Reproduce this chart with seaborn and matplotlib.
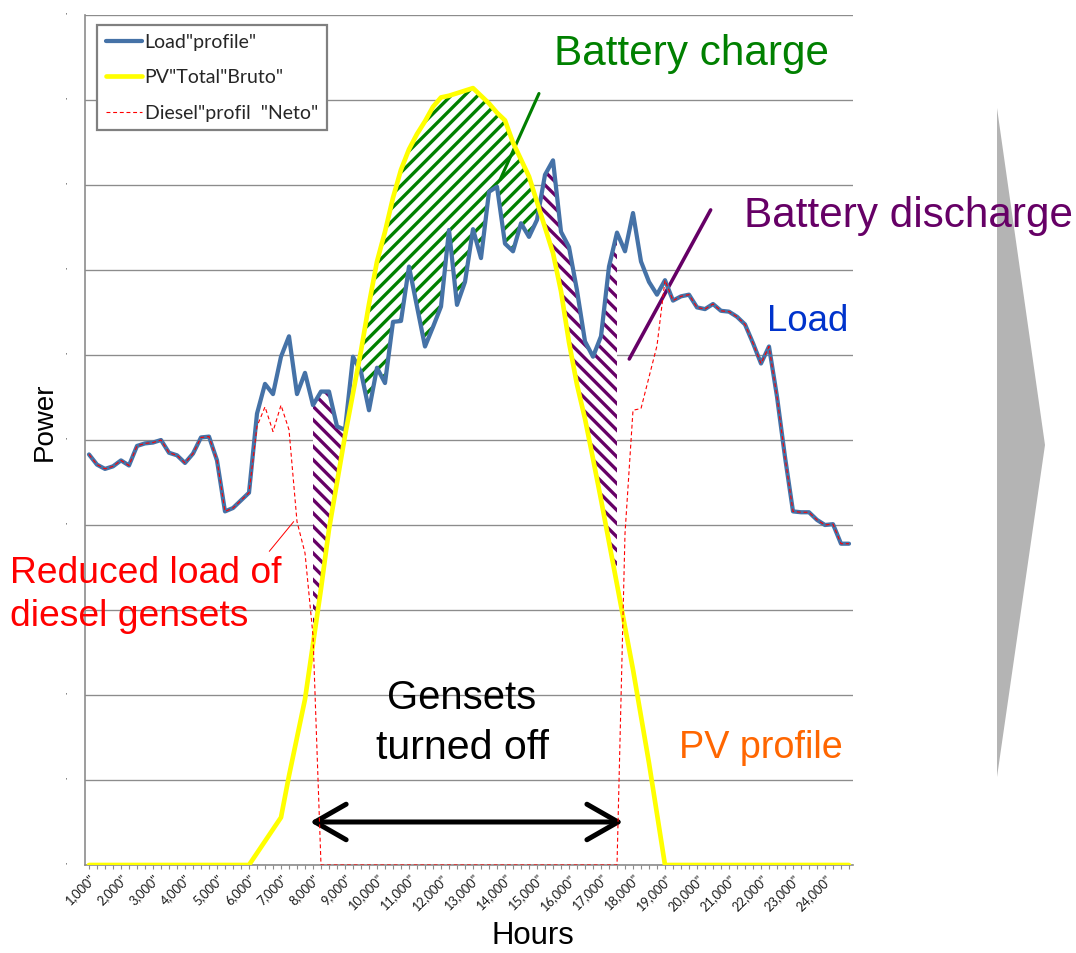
import numpy as np
import pandas as pd
import matplotlib
matplotlib.use("Agg")
import matplotlib.pyplot as plt
import seaborn as sns
from matplotlib.patches import Polygon
from matplotlib.lines import Line2D

W, H, DPI = 1076, 953, 80

# 15-minute categories, 1:00 ... 24:45
hours = np.arange(1, 24.76, 0.25)

load = [4.83, 4.71, 4.66, 4.69, 4.76, 4.70, 4.93, 4.96, 4.97, 5.00,
        4.85, 4.82, 4.73, 4.84, 5.03, 5.04, 4.76, 4.16, 4.20, 4.29,
        4.38, 5.31, 5.66, 5.54, 5.98, 6.22, 5.54, 5.79, 5.41, 5.57,
        5.57, 5.16, 5.12, 5.98, 5.80, 5.35, 5.85, 5.67, 6.39, 6.40,
        7.04, 6.57, 6.10, 6.33, 6.57, 7.47, 6.59, 6.86, 7.48, 7.14,
        7.92, 7.98, 7.31, 7.22, 7.55, 7.39, 7.59, 8.12, 8.29, 7.45,
        7.27, 6.76, 6.16, 5.98, 6.22, 7.04, 7.44, 7.22, 7.67, 7.10,
        6.86, 6.71, 6.88, 6.64, 6.69, 6.71, 6.56, 6.54, 6.60, 6.52,
        6.51, 6.45, 6.36, 6.14, 5.90, 6.10, 5.51, 4.80, 4.16, 4.15,
        4.15, 4.06, 4.00, 4.01, 3.78, 3.78]

pv = [0.0] * 20 + [
    0.00, 0.14, 0.28, 0.42, 0.56, 1.05, 1.50, 1.95, 2.60, 3.25,
    3.95, 4.50, 5.05, 5.55, 6.05, 6.60, 7.10, 7.45, 7.85, 8.18,
    8.42, 8.60, 8.75, 8.92, 9.03, 9.05, 9.08, 9.11, 9.14, 9.05,
    8.96, 8.85, 8.76, 8.50, 8.30, 8.10, 7.80, 7.50, 7.20, 6.75,
    6.15, 5.65, 5.25, 4.78, 4.30, 3.80, 3.30, 2.80, 2.30, 1.75,
    1.20, 0.60, 0.00] + [0.0] * 23

diesel = (load[:21]
          + [5.16, 5.39, 5.10, 5.41, 5.12, 4.04, 3.67, 2.70]
          + [0.0] * 38
          + [3.90, 5.35, 5.37, 5.74, 6.11]
          + load[72:])

legend_labels = ['Load"profile"', 'PV"Total"Bruto"', 'Diesel"profil  "Neto"']
hour_labels = [f'{h},000"' for h in range(1, 25)]

df = pd.DataFrame({"hour": hours, "Load": load, "PV": pv, "Diesel": diesel})

sns.set_theme(style="white")
plt.rcParams["font.family"] = ["Liberation Sans", "DejaVu Sans"]
plt.rcParams["hatch.linewidth"] = 3.0

fig = plt.figure(figsize=(W / DPI, H / DPI), dpi=DPI)
ax = fig.add_axes([85 / W, 1 - 865 / H, 768 / W, 850 / H])


def ftext(x, y, s, **kw):
    # position given in figure pixels from the top-left corner
    fig.text(x / W, 1 - y / H, s, **kw)


# hatched battery areas
idx = np.arange(len(df))
l = df["Load"].values
p = df["PV"].values
ax.fill_between(df["hour"], l, p, where=(p > l) & (idx >= 32) & (idx <= 59),
                interpolate=True, facecolor="white", edgecolor="#008000",
                hatch="//", linewidth=0, zorder=2)
discharge = (l > p) & (((idx >= 28) & (idx <= 32)) | ((idx >= 57) & (idx <= 66)))
ax.fill_between(df["hour"], l, p, where=discharge, interpolate=True,
                facecolor="white", edgecolor="#660066", hatch="\\\\",
                linewidth=0, zorder=2)

sns.lineplot(data=df, x="hour", y="Load", ax=ax, color="#4572A7", lw=3.8,
             zorder=4, legend=False)
sns.lineplot(data=df, x="hour", y="PV", ax=ax, color="#FFFF00", lw=4.2,
             zorder=5, legend=False)
sns.lineplot(data=df, x="hour", y="Diesel", ax=ax, color="#FF0000", lw=1.0,
             zorder=6, legend=False)
ax.lines[-1].set_dashes((3.5, 2.5))

# axes styling
ax.set_xlim(0.875, 24.875)
ax.set_ylim(0, 10)
ax.set_xticks(np.arange(1, 25))
ax.set_xticks(df["hour"], minor=True)
ax.set_xticklabels(hour_labels, rotation=45, ha="right", va="top",
                   rotation_mode="anchor", fontsize=11.5, family="Lato",
                   color="#1a1a1a")
ax.tick_params(axis="x", which="both", bottom=True, direction="out",
               length=4, width=1, color="#8c8c8c", pad=3)
ax.set_yticks(np.arange(0, 11))
ax.set_yticklabels(["'"] * 11, fontsize=7, color="#404040")
ax.tick_params(axis="y", length=0, pad=16)
ax.grid(axis="y", color="#8c8c8c", lw=1.2)
ax.grid(axis="x", visible=False)
for side in ("top", "right"):
    ax.spines[side].set_visible(False)
for side in ("left", "bottom"):
    ax.spines[side].set_color("#8c8c8c")
    ax.spines[side].set_linewidth(1.5)
ax.set_xlabel("")
ax.set_ylabel("")

handles = [Line2D([], [], color="#4572A7", lw=3.8),
           Line2D([], [], color="#FFFF00", lw=4.2),
           Line2D([], [], color="#FF0000", lw=1.0, dashes=(3.5, 2.5))]
leg = ax.legend(handles, legend_labels, loc="upper left",
                bbox_to_anchor=(12 / 768, 1 - 10 / 850), frameon=True,
                fancybox=False, edgecolor="#808080", framealpha=1,
                prop={"family": "Lato", "size": 17.5}, handlelength=1.85,
                handletextpad=0.15, labelspacing=0.95, borderpad=0.45,
                borderaxespad=0)
leg.get_frame().set_linewidth(2)
leg.set_zorder(10)

# pointer lines and arrow
ax.annotate("", xy=(13.82, 8.04), xytext=(15.09, 9.10),
            arrowprops=dict(arrowstyle="-", color="#007F00", lw=2.8))
ax.annotate("", xy=(17.85, 5.93), xytext=(20.46, 7.73),
            arrowprops=dict(arrowstyle="-", color="#660066", lw=3.2))
ax.annotate("", xy=(6.59, 3.67), xytext=(7.44, 4.06),
            arrowprops=dict(arrowstyle="-", color="#FF0000", lw=0.9))
ax.annotate("", xy=(17.69, 0.506), xytext=(7.906, 0.506),
            arrowprops=dict(arrowstyle="<->,head_length=1.4,head_width=0.8",
                            color="black", lw=4.5, mutation_scale=20,
                            shrinkA=0, shrinkB=0))

# texts
ftext(692, 65, "Battery charge", color="#008000", fontsize=38,
      ha="center", va="baseline")
ftext(909, 227, "Battery discharge", color="#660066", fontsize=38,
      ha="center", va="baseline")
ftext(808, 331, "Load", color="#0033CC", fontsize=33, ha="center",
      va="baseline")
ftext(761, 758, "PV profile", color="#FF6600", fontsize=34, ha="center",
      va="baseline")
ftext(10, 583, "Reduced load of", color="#FF0000", fontsize=33.5,
      ha="left", va="baseline")
ftext(10, 626, "diesel gensets", color="#FF0000", fontsize=33.5,
      ha="left", va="baseline")
ftext(462, 709, "Gensets", color="black", fontsize=36, ha="center",
      va="baseline")
ftext(462, 759, "turned off", color="black", fontsize=37, ha="center",
      va="baseline")
ftext(533, 944, "Hours", color="black", fontsize=28, ha="center",
      va="baseline")
ftext(45, 422, "Power", color="black", fontsize=25, rotation=90,
      ha="center", va="center")

# grey chevron on the right
fig.patches.append(Polygon([(997 / W, 1 - 108 / H), (1045 / W, 1 - 445 / H),
                            (997 / W, 1 - 777 / H)], closed=True,
                           transform=fig.transFigure, facecolor="#B4B4B4",
                           edgecolor="none"))

fig.savefig("out.png", dpi=DPI)
